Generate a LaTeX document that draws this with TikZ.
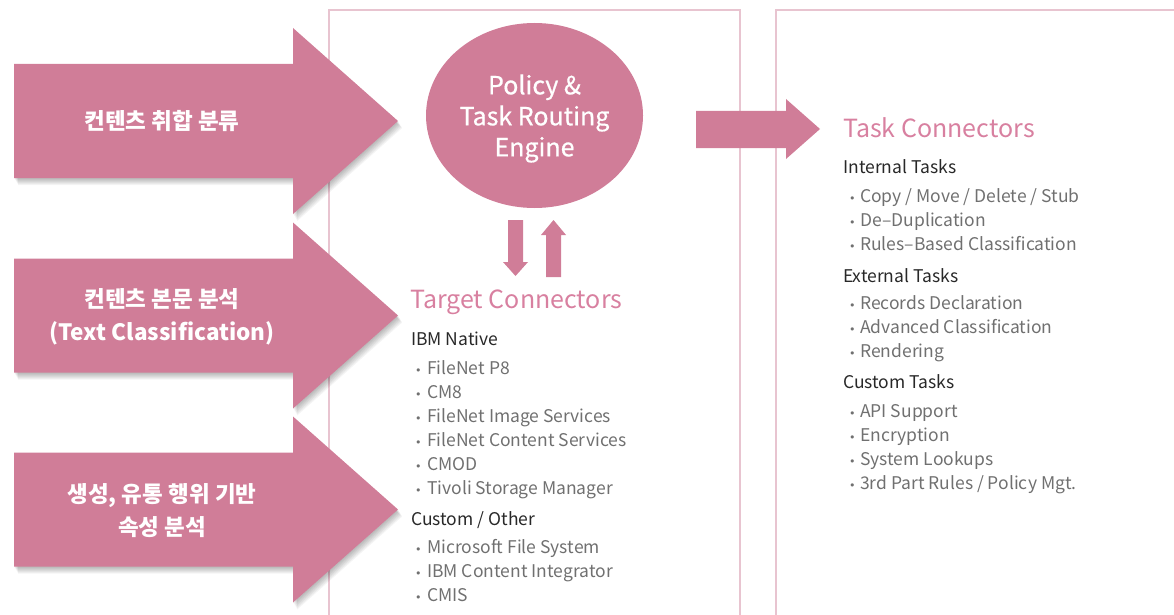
\documentclass[tikz,border=0pt]{standalone}
\usepackage{fontspec}
\setmainfont{Noto Sans CJK KR}
\newfontfamily\dotfont{DejaVu Sans}
\newfontfamily\enginefont[FakeBold=0.6]{Noto Sans CJK KR}
\usetikzlibrary{shapes.geometric}
\definecolor{rose}{RGB}{208,125,152}
\definecolor{rosetext}{RGB}{216,128,160}
\definecolor{panelline}{RGB}{232,196,208}
\definecolor{headgray}{RGB}{40,40,40}
\definecolor{itemgray}{RGB}{112,112,112}
\tikzset{
  panel/.style={draw=panelline, line width=1.3pt},
  blockarrow/.style={fill=rose},
  arrowtext/.style={text=white, font=\bfseries\fontsize{22.5}{33}\selectfont, align=center},
  enginetext/.style={text=white, align=center, font=\enginefont\fontsize{25}{31}\selectfont},
  title/.style={text=rosetext, font=\fontsize{25}{30}\selectfont, anchor=base west, inner sep=0},
  head/.style={text=headgray, font=\fontsize{17.5}{21}\selectfont, anchor=base west, inner sep=0},
  item/.style={text=itemgray, font=\fontsize{17.5}{21}\selectfont, anchor=base west, inner sep=0},
  bulletmark/.style={text=itemgray, font=\dotfont\fontsize{11}{11}\selectfont, anchor=base west, inner sep=0}
}
\begin{document}
\begin{tikzpicture}[x=1pt,y=-1pt]
\useasboundingbox (0,0) rectangle (1174,615);
% panels
\draw [panel] (329,10) rectangle (740,640);
\draw [panel] (776,10) rectangle (1200,640);
% left arrows, soft shadow first
\foreach \c in {121,315.5,509.5}{
  \foreach \s in {1,...,7}
    \fill [black, opacity=0.045] (14+0.6*\s,\c-57+\s) -- (293+0.6*\s,\c-57+\s) -- (293+0.6*\s,\c-93+\s)
      -- (398+0.6*\s,\c+\s) -- (293+0.6*\s,\c+93+\s) -- (293+0.6*\s,\c+57+\s) -- (14+0.6*\s,\c+57+\s) -- cycle;
  \fill [blockarrow] (14,\c-57) -- (293,\c-57) -- (293,\c-93) -- (398,\c)
    -- (293,\c+93) -- (293,\c+57) -- (14,\c+57) -- cycle;
}
\node [arrowtext] (src1) at (162,121) {컨텐츠 취합 분류};
\node [arrowtext] (src2) at (162,317) {컨텐츠 본문 분석\\(Text Classification)};
\node [arrowtext] (src3) at (162,511) {생성, 유통 행위 기반\\속성 분석};
% engine
\node [ellipse, fill=rose, minimum width=217pt, minimum height=185pt, inner sep=0] (engine) at (534.5,115.5) {};
\node [enginetext] (enginelabel) at ([yshift=-3pt]engine.center) {Policy \&\\Task Routing\\Engine};
% down / up
\fill [blockarrow] (508,220) -- (523,220) -- (523,262) -- (528,262) -- (515.5,276) -- (503,262) -- (508,262) -- cycle;
\fill [blockarrow] (546,277) -- (561,277) -- (561,235) -- (566,235) -- (553.5,220) -- (541,235) -- (546,235) -- cycle;
% to task connectors
\fill [blockarrow] (696,111) -- (786,111) -- (786,99) -- (820,129) -- (786,159) -- (786,148) -- (696,148) -- cycle;
% target connectors
\node [title] (target) at (410,308) {Target Connectors};
\node [head] (ibm) at (411,345) {IBM Native};
\foreach \t [count=\i] in {FileNet P8,CM8,FileNet Image Services,FileNet Content Services,CMOD,Tivoli Storage Manager}{
  \node [bulletmark] (ibm-b\i) at (415,350+24*\i) {•};
  \node [item] (ibm-\i) at (427,350+24*\i) {\t};
}
\node [head] (other) at (411,525) {Custom / Other};
\foreach \t [count=\i] in {Microsoft File System,IBM Content Integrator,CMIS}{
  \node [bulletmark] (other-b\i) at (415,529+24*\i) {•};
  \node [item] (other-\i) at (427,529+24*\i) {\t};
}
% task connectors
\node [title] (task) at (843,137) {Task Connectors};
\node [head] (int) at (843,173) {Internal Tasks};
\foreach \t [count=\i] in {Copy / Move / Delete / Stub,De–Duplication,Rules–Based Classification}{
  \node [bulletmark] (int-b\i) at (849,178+24*\i) {•};
  \node [item] (int-\i) at (860,178+24*\i) {\t};
}
\node [head] (ext) at (843,282) {External Tasks};
\foreach \t [count=\i] in {Records Declaration,Advanced Classification,Rendering}{
  \node [bulletmark] (ext-b\i) at (849,285+24*\i) {•};
  \node [item] (ext-\i) at (860,285+24*\i) {\t};
}
\node [head] (cus) at (843,388) {Custom Tasks};
\foreach \t [count=\i] in {API Support,Encryption,System Lookups,3rd Part Rules / Policy Mgt.}{
  \node [bulletmark] (cus-b\i) at (849,393+24*\i) {•};
  \node [item] (cus-\i) at (860,393+24*\i) {\t};
}
\end{tikzpicture}
\end{document}
